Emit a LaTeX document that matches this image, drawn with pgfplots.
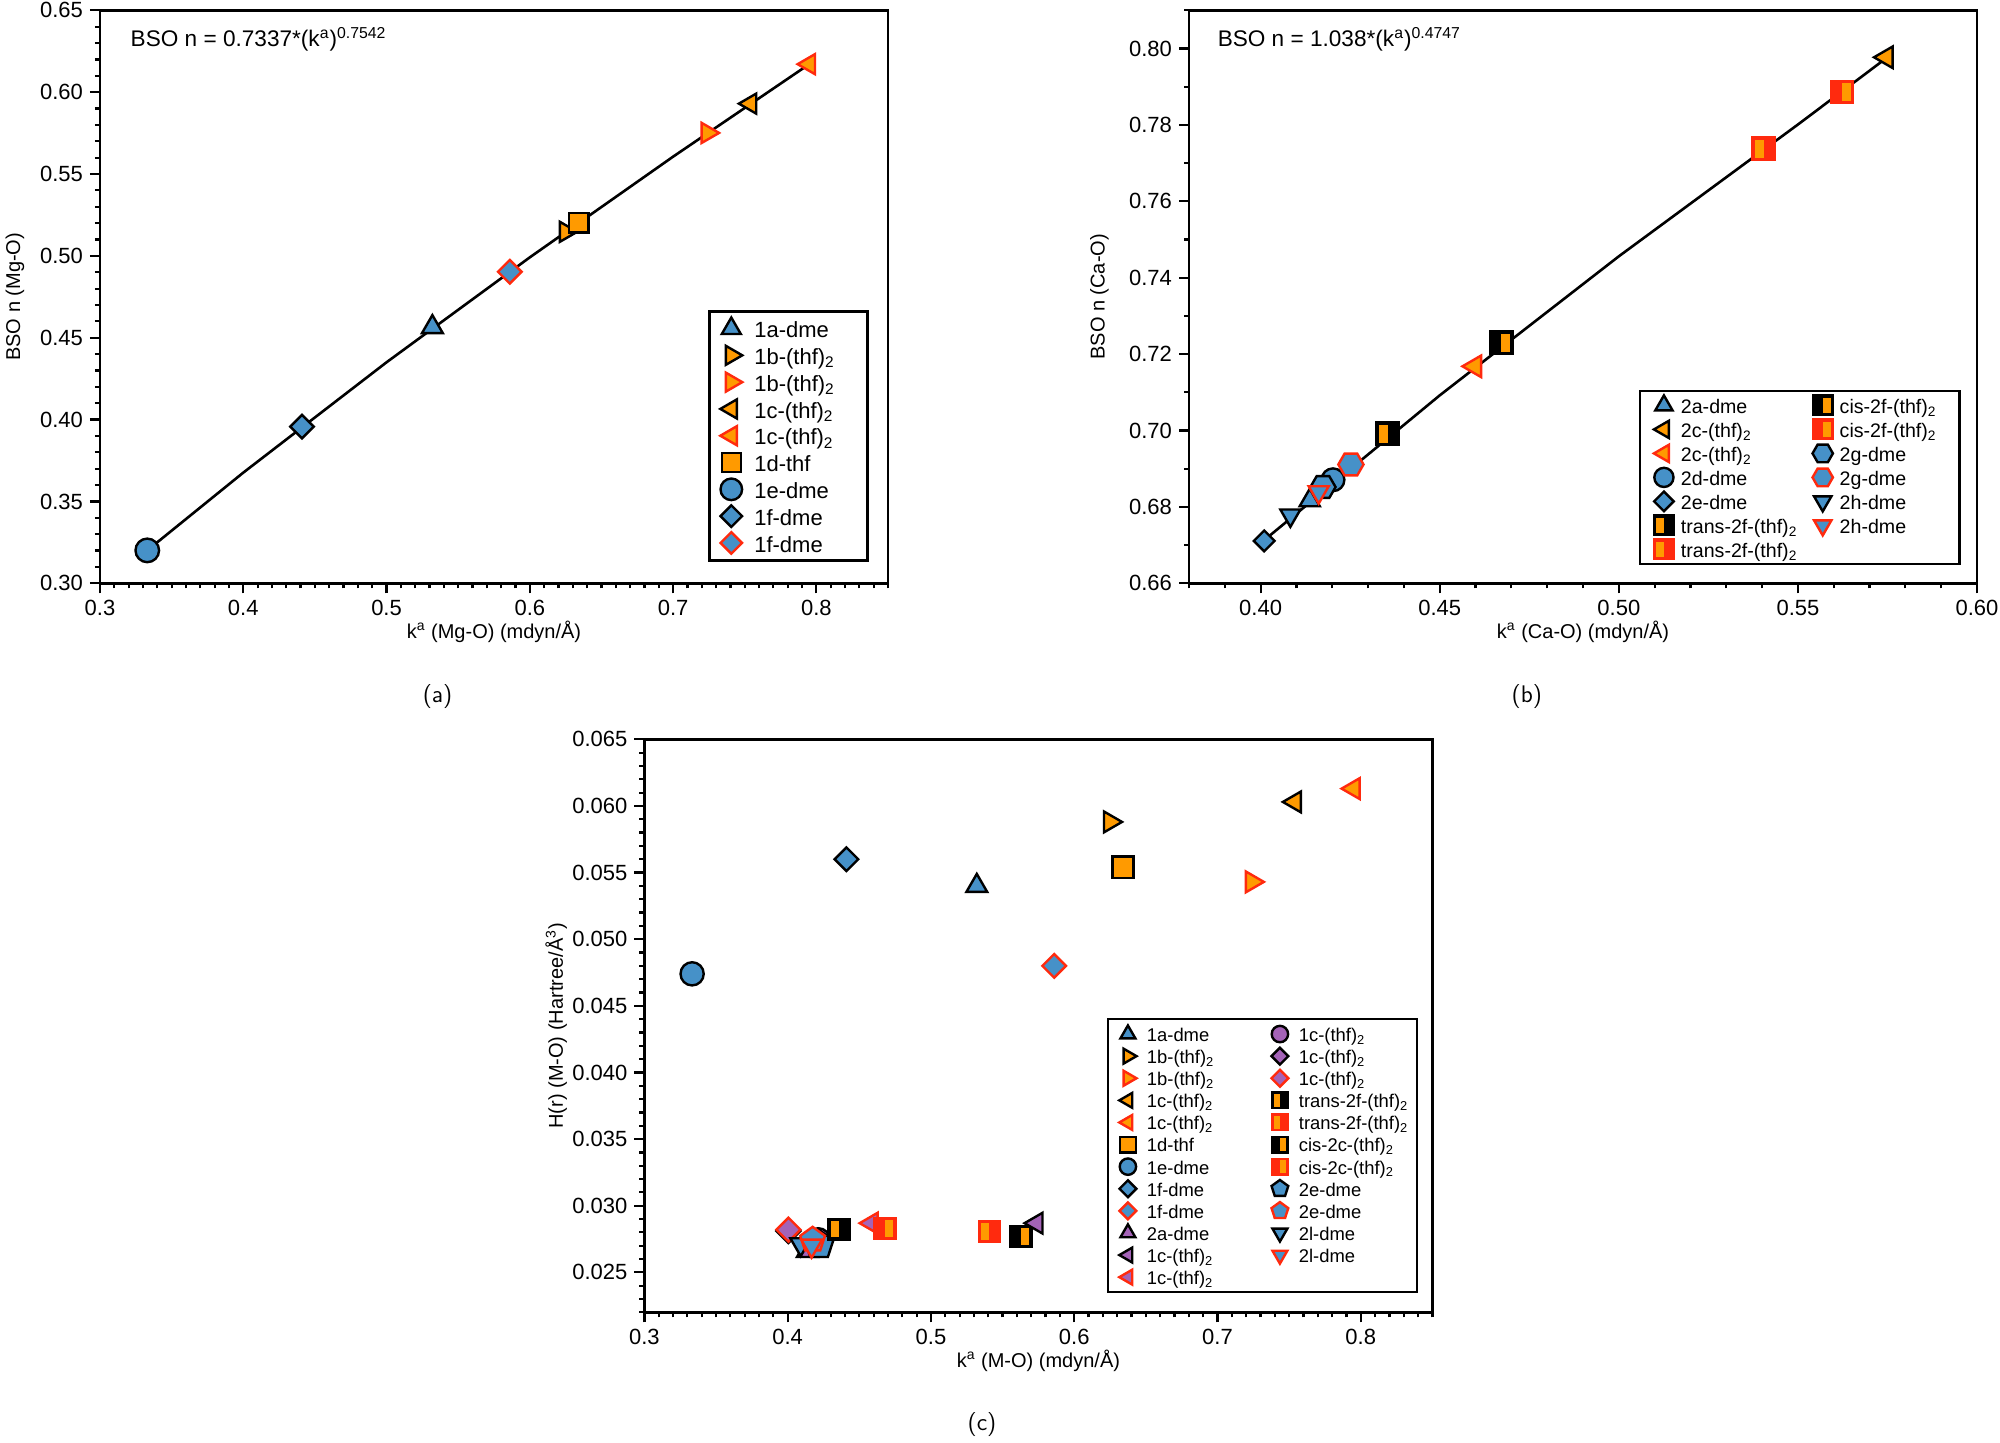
\documentclass[border=0pt]{standalone}
\usepackage{fontspec}
\setmainfont{Liberation Sans}
\usepackage{pgfplots}
\pgfplotsset{compat=1.18}

\definecolor{mBlue}{HTML}{4691C8}
\definecolor{mOrange}{HTML}{FF9A00}
\definecolor{mRed}{HTML}{FF2A0E}
\definecolor{mPurple}{HTML}{A463B7}

% square-shaped diamond
\pgfdeclareplotmark{sqdiamond}{%
  \pgfpathmoveto{\pgfqpoint{0pt}{\pgfplotmarksize}}%
  \pgfpathlineto{\pgfqpoint{\pgfplotmarksize}{0pt}}%
  \pgfpathlineto{\pgfqpoint{0pt}{-\pgfplotmarksize}}%
  \pgfpathlineto{\pgfqpoint{-\pgfplotmarksize}{0pt}}%
  \pgfpathclose
  \pgfusepathqfillstroke}
% hexagon, pointy left/right
\pgfdeclareplotmark{hexa}{%
  \pgfpathmoveto{\pgfqpoint{\pgfplotmarksize}{0pt}}%
  \pgfpathlineto{\pgfqpoint{0.5\pgfplotmarksize}{0.866\pgfplotmarksize}}%
  \pgfpathlineto{\pgfqpoint{-0.5\pgfplotmarksize}{0.866\pgfplotmarksize}}%
  \pgfpathlineto{\pgfqpoint{-\pgfplotmarksize}{0pt}}%
  \pgfpathlineto{\pgfqpoint{-0.5\pgfplotmarksize}{-0.866\pgfplotmarksize}}%
  \pgfpathlineto{\pgfqpoint{0.5\pgfplotmarksize}{-0.866\pgfplotmarksize}}%
  \pgfpathclose
  \pgfusepathqfillstroke}
% square in edge colour, orange bar on the left (trans)
\pgfdeclareplotmark{halfL}{%
  \pgfpathrectangle{\pgfqpoint{-\pgfplotmarksize}{-\pgfplotmarksize}}{\pgfqpoint{2\pgfplotmarksize}{2\pgfplotmarksize}}%
  \pgfusepathqfillstroke
  \begin{pgfscope}\pgfsetfillcolor{mOrange}%
  \pgfpathrectangle{\pgfqpoint{-0.8\pgfplotmarksize}{-0.8\pgfplotmarksize}}{\pgfqpoint{0.8\pgfplotmarksize}{1.6\pgfplotmarksize}}%
  \pgfusepathqfill\end{pgfscope}}
% orange bar on the right (cis)
\pgfdeclareplotmark{halfR}{%
  \pgfpathrectangle{\pgfqpoint{-\pgfplotmarksize}{-\pgfplotmarksize}}{\pgfqpoint{2\pgfplotmarksize}{2\pgfplotmarksize}}%
  \pgfusepathqfillstroke
  \begin{pgfscope}\pgfsetfillcolor{mOrange}%
  \pgfpathrectangle{\pgfqpoint{0pt}{-0.8\pgfplotmarksize}}{\pgfqpoint{0.8\pgfplotmarksize}{1.6\pgfplotmarksize}}%
  \pgfusepathqfill\end{pgfscope}}

% legend text cells of fixed width and height
\newcommand{\LA}[1]{\makebox[52.5pt][l]{\rule[-3.8pt]{0pt}{14.4pt}#1}}
\newcommand{\LB}[2]{\makebox[#1][l]{\rule[-2.5pt]{0pt}{12pt}#2}}
\newcommand{\LC}[2]{\makebox[#1][l]{\rule[-2.25pt]{0pt}{11.1pt}#2}}
\newcommand{\thfs}{(thf)\textsubscript{2}}

\pgfplotsset{
  M/.style n args={4}{only marks, line width=1.2pt, mark=#1, draw=#2, fill=#3, mark size=#4},
  rl/.style={mark options={rotate=90}},
  rr/.style={mark options={rotate=-90}},
  rd/.style={mark options={rotate=180}},
  leg/.style={legend image code/.code={\path[draw=none, fill=none] (-#1,0pt) -- (#1,0pt); \draw[##1, overlay] plot coordinates {(0pt,0pt)};}},
  fmt/.style={/pgf/number format/fixed, /pgf/number format/fixed zerofill, /pgf/number format/precision=#1},
  panel/.style={
    scale only axis, width=394pt, height=286.5pt,
    scaled ticks=false,
    axis line style={line width=1.3pt},
    tick style={black, line width=1.1pt},
    tick align=outside, xtick pos=left, ytick pos=left,
    major tick length=5pt, minor tick length=2.5pt,
    tick label style={font=\fontsize{11}{13}\selectfont},
    label style={font=\fontsize{10.5}{12}\selectfont},
    /pgf/number format/assume math mode=true,
    every axis x label/.style={at={(axis description cs:0.5,-0.084)}, anchor=center},
    legend cell align=left,
  },
}

\begin{document}
\begin{tikzpicture}
\useasboundingbox (0pt,0pt) rectangle (1000pt,-721.5pt);

% ---------------- (a)
\begin{axis}[panel, at={(50pt,-291.65pt)}, anchor=south west,
  xmin=0.3, xmax=0.85, ymin=0.30, ymax=0.65,
  xtick={0.3,0.4,0.5,0.6,0.7,0.8}, ytick={0.30,0.35,0.40,0.45,0.50,0.55,0.60,0.65},
  minor xtick={0.30,0.31,...,0.85}, minor ytick={0.30,0.31,...,0.65},
  xticklabel style={fmt=1}, yticklabel style={fmt=2},
  xlabel={k\textsuperscript{a} (Mg-O) (mdyn/Å)},
  ylabel={BSO n (Mg-O)},
  every axis y label/.style={at={(axis description cs:-0.108,0.5)}, rotate=90, anchor=center},
  legend style={at={(rel axis cs:0.9754,0.038)}, anchor=south east, draw=black, line width=1.3pt,
    font=\fontsize{11}{13}\selectfont, inner xsep=4pt, inner ysep=2.6pt, row sep=1.3pt, column sep=4.5pt,
    nodes={inner sep=0pt}},
]
\addplot[black, line width=1.3pt, forget plot] coordinates {
  (0.333,0.3201) (0.40,0.3676) (0.50,0.4350) (0.60,0.4991) (0.70,0.5606) (0.795,0.6171)};
\addplot[M={*}{black}{mBlue}{5.9pt}, forget plot] coordinates {(0.333,0.3201)};
\addplot[M={sqdiamond}{black}{mBlue}{5.9pt}, forget plot] coordinates {(0.441,0.3957)};
\addplot[M={triangle*}{black}{mBlue}{6pt}, forget plot] coordinates {(0.532,0.4565)};
\addplot[M={sqdiamond}{mRed}{mBlue}{5.9pt}, forget plot] coordinates {(0.586,0.4903)};
\addplot[M={triangle*}{black}{mOrange}{5.8pt}, rr, forget plot] coordinates {(0.625,0.5147)};
\addplot[M={square*}{black}{mOrange}{4.9pt}, forget plot] coordinates {(0.634,0.5203)};
\addplot[M={triangle*}{mRed}{mOrange}{5.8pt}, rr, forget plot] coordinates {(0.724,0.5751)};
\addplot[M={triangle*}{black}{mOrange}{5.8pt}, rl, forget plot] coordinates {(0.754,0.5930)};
\addplot[M={triangle*}{mRed}{mOrange}{5.8pt}, rl, forget plot] coordinates {(0.795,0.6171)};
\node[anchor=west, font=\fontsize{11.3}{13}\selectfont] at (rel axis cs:0.030,0.950)
  {BSO n = 0.7337*(k\textsuperscript{a})\textsuperscript{0.7542}};
\addlegendimage{M={triangle*}{black}{mBlue}{5.5pt}, leg=7pt}
\addlegendentry{\LA{1a-dme}}
\addlegendimage{M={triangle*}{black}{mOrange}{5.5pt}, rr, leg=7pt}
\addlegendentry{\LA{1b-\thfs}}
\addlegendimage{M={triangle*}{mRed}{mOrange}{5.5pt}, rr, leg=7pt}
\addlegendentry{\LA{1b-\thfs}}
\addlegendimage{M={triangle*}{black}{mOrange}{5.5pt}, rl, leg=7pt}
\addlegendentry{\LA{1c-\thfs}}
\addlegendimage{M={triangle*}{mRed}{mOrange}{5.5pt}, rl, leg=7pt}
\addlegendentry{\LA{1c-\thfs}}
\addlegendimage{M={square*}{black}{mOrange}{4.7pt}, leg=7pt}
\addlegendentry{\LA{1d-thf}}
\addlegendimage{M={*}{black}{mBlue}{5.4pt}, leg=7pt}
\addlegendentry{\LA{1e-dme}}
\addlegendimage{M={sqdiamond}{black}{mBlue}{5.4pt}, leg=7pt}
\addlegendentry{\LA{1f-dme}}
\addlegendimage{M={sqdiamond}{mRed}{mBlue}{5.4pt}, leg=7pt}
\addlegendentry{\LA{1f-dme}}
\end{axis}

% ---------------- (b)
\begin{axis}[panel, at={(594.5pt,-291.65pt)}, anchor=south west,
  xmin=0.38, xmax=0.60, ymin=0.66, ymax=0.81,
  xtick={0.40,0.45,0.50,0.55,0.60}, ytick={0.66,0.68,0.70,0.72,0.74,0.76,0.78,0.80},
  minor xtick={0.38,0.39,...,0.60}, minor ytick={0.67,0.69,...,0.81},
  xticklabel style={fmt=2}, yticklabel style={fmt=2},
  xlabel={k\textsuperscript{a} (Ca-O) (mdyn/Å)},
  ylabel={BSO n (Ca-O)},
  every axis y label/.style={at={(axis description cs:-0.1136,0.5)}, rotate=90, anchor=center},
  legend columns=2,
  legend style={at={(rel axis cs:0.9797,0.0314)}, anchor=south east, draw=black, line width=1.3pt,
    font=\fontsize{9.8}{11.5}\selectfont, inner xsep=6pt, inner ysep=1.8pt, row sep=1pt, column sep=2.5pt,
    nodes={inner sep=0pt}},
]
\addplot[black, line width=1.3pt, forget plot] coordinates {
  (0.401,0.6713) (0.45,0.7092) (0.50,0.7456) (0.55,0.7801) (0.5747,0.7975)};
\addplot[M={*}{black}{mBlue}{5.7pt}, forget plot] coordinates {(0.4202,0.6871)};
\addplot[M={hexa}{black}{mBlue}{6.3pt}, forget plot] coordinates {(0.4174,0.6852)};
\addplot[M={triangle*}{black}{mBlue}{5.8pt}, forget plot] coordinates {(0.4137,0.6817)};
\addplot[M={triangle*}{mRed}{mBlue}{5.8pt}, rd, forget plot] coordinates {(0.4162,0.6839)};
\addplot[M={hexa}{mRed}{mBlue}{6.3pt}, forget plot] coordinates {(0.4252,0.6911)};
\addplot[M={triangle*}{black}{mBlue}{5.8pt}, rd, forget plot] coordinates {(0.4083,0.6778)};
\addplot[M={sqdiamond}{black}{mBlue}{5.2pt}, forget plot] coordinates {(0.401,0.6711)};
\addplot[M={halfL}{black}{black}{5.6pt}, forget plot] coordinates {(0.4355,0.6992)};
\addplot[M={triangle*}{mRed}{mOrange}{6.2pt}, rl, forget plot] coordinates {(0.4598,0.7168)};
\addplot[M={halfR}{black}{black}{5.6pt}, forget plot] coordinates {(0.4672,0.7230)};
\addplot[M={halfL}{mRed}{mRed}{5.6pt}, forget plot] coordinates {(0.5404,0.7738)};
\addplot[M={halfR}{mRed}{mRed}{5.6pt}, forget plot] coordinates {(0.5623,0.7886)};
\addplot[M={triangle*}{black}{mOrange}{6.2pt}, rl, forget plot] coordinates {(0.5747,0.7977)};
\node[anchor=west, font=\fontsize{11.3}{13}\selectfont] at (rel axis cs:0.0275,0.950)
  {BSO n = 1.038*(k\textsuperscript{a})\textsuperscript{0.4747}};
% legend, filled row by row
\addlegendimage{M={triangle*}{black}{mBlue}{5pt}, leg=6pt}
\addlegendentry{\LB{62.4pt}{2a-dme}}
\addlegendimage{M={halfR}{black}{black}{4.9pt}, leg=6pt}
\addlegendentry{\LB{54pt}{cis-2f-\thfs}}
\addlegendimage{M={triangle*}{black}{mOrange}{5pt}, rl, leg=6pt}
\addlegendentry{\LB{62.4pt}{2c-\thfs}}
\addlegendimage{M={halfR}{mRed}{mRed}{4.9pt}, leg=6pt}
\addlegendentry{\LB{54pt}{cis-2f-\thfs}}
\addlegendimage{M={triangle*}{mRed}{mOrange}{5pt}, rl, leg=6pt}
\addlegendentry{\LB{62.4pt}{2c-\thfs}}
\addlegendimage{M={hexa}{black}{mBlue}{5.1pt}, leg=6pt}
\addlegendentry{\LB{54pt}{2g-dme}}
\addlegendimage{M={*}{black}{mBlue}{4.8pt}, leg=6pt}
\addlegendentry{\LB{62.4pt}{2d-dme}}
\addlegendimage{M={hexa}{mRed}{mBlue}{5.1pt}, leg=6pt}
\addlegendentry{\LB{54pt}{2g-dme}}
\addlegendimage{M={sqdiamond}{black}{mBlue}{4.9pt}, leg=6pt}
\addlegendentry{\LB{62.4pt}{2e-dme}}
\addlegendimage{M={triangle*}{black}{mBlue}{5pt}, rd, leg=6pt}
\addlegendentry{\LB{54pt}{2h-dme}}
\addlegendimage{M={halfL}{black}{black}{4.9pt}, leg=6pt}
\addlegendentry{\LB{62.4pt}{trans-2f-\thfs}}
\addlegendimage{M={triangle*}{mRed}{mBlue}{5pt}, rd, leg=6pt}
\addlegendentry{\LB{54pt}{2h-dme}}
\addlegendimage{M={halfL}{mRed}{mRed}{4.9pt}, leg=6pt}
\addlegendentry{\LB{62.4pt}{trans-2f-\thfs}}
\end{axis}

% ---------------- (c)
\begin{axis}[panel, at={(322.2pt,-656.15pt)}, anchor=south west,
  xmin=0.3, xmax=0.85, ymin=0.022, ymax=0.065,
  xtick={0.3,0.4,0.5,0.6,0.7,0.8}, ytick={0.025,0.030,0.035,0.040,0.045,0.050,0.055,0.060,0.065},
  minor xtick={0.30,0.31,...,0.85}, minor ytick={0.022,0.023,...,0.065},
  xticklabel style={fmt=1}, yticklabel style={fmt=3},
  xlabel={k\textsuperscript{a} (M-O) (mdyn/Å)},
  ylabel={H(r) (M-O) (Hartree/Å\textsuperscript{3})},
  every axis y label/.style={at={(axis description cs:-0.112,0.5)}, rotate=90, anchor=center},
  legend columns=2,
  legend style={at={(rel axis cs:0.982,0.033)}, anchor=south east, draw=black, line width=1.3pt,
    font=\fontsize{9.2}{11}\selectfont, inner xsep=5pt, inner ysep=2.3pt, row sep=0.7pt, column sep=4.5pt,
    nodes={inner sep=0pt}},
]
% Mg complexes
\addplot[M={*}{black}{mBlue}{5.8pt}, forget plot] coordinates {(0.3333,0.0474)};
\addplot[M={sqdiamond}{black}{mBlue}{5.9pt}, forget plot] coordinates {(0.441,0.0560)};
\addplot[M={triangle*}{black}{mBlue}{6pt}, forget plot] coordinates {(0.532,0.0540)};
\addplot[M={triangle*}{black}{mOrange}{6pt}, rr, forget plot] coordinates {(0.625,0.0588)};
\addplot[M={square*}{black}{mOrange}{5.3pt}, forget plot] coordinates {(0.634,0.0554)};
\addplot[M={triangle*}{black}{mOrange}{6pt}, rl, forget plot] coordinates {(0.754,0.0603)};
\addplot[M={triangle*}{mRed}{mOrange}{6pt}, rl, forget plot] coordinates {(0.795,0.0613)};
\addplot[M={triangle*}{mRed}{mOrange}{6pt}, rr, forget plot] coordinates {(0.724,0.0543)};
\addplot[M={sqdiamond}{mRed}{mBlue}{5.9pt}, forget plot] coordinates {(0.586,0.0480)};
% Ca complexes
\addplot[M={sqdiamond}{black}{mPurple}{6pt}, forget plot] coordinates {(0.4005,0.0281)};
\addplot[M={sqdiamond}{mRed}{mPurple}{6pt}, forget plot] coordinates {(0.4005,0.0282)};
\addplot[M={*}{black}{mPurple}{5.8pt}, forget plot] coordinates {(0.4214,0.02744)};
\addplot[M={triangle*}{black}{mPurple}{6pt}, forget plot] coordinates {(0.4137,0.0266)};
\addplot[M={triangle*}{black}{mBlue}{6pt}, rd, forget plot] coordinates {(0.4091,0.02711)};
\addplot[M={pentagon*}{black}{mBlue}{7.5pt}, forget plot] coordinates {(0.4219,0.02706)};
\addplot[M={pentagon*}{mRed}{mBlue}{6.5pt}, forget plot] coordinates {(0.4174,0.02744)};
\addplot[M={triangle*}{mRed}{mBlue}{6pt}, rd, forget plot] coordinates {(0.4167,0.0270)};
\addplot[M={halfL}{black}{black}{5.2pt}, forget plot] coordinates {(0.4358,0.02824)};
\addplot[M={triangle*}{mRed}{mPurple}{6pt}, rl, forget plot] coordinates {(0.4586,0.02869)};
\addplot[M={halfR}{mRed}{mRed}{5.2pt}, forget plot] coordinates {(0.4679,0.02827)};
\addplot[M={halfL}{mRed}{mRed}{5.2pt}, forget plot] coordinates {(0.5407,0.02806)};
\addplot[M={halfR}{black}{black}{5.2pt}, forget plot] coordinates {(0.5628,0.02769)};
\addplot[M={triangle*}{black}{mPurple}{6pt}, rl, forget plot] coordinates {(0.5737,0.02869)};
% legend, filled row by row (left column, right column)
\addlegendimage{M={triangle*}{black}{mBlue}{4.3pt}, leg=5pt}
\addlegendentry{\LC{57pt}{1a-dme}}
\addlegendimage{M={*}{black}{mPurple}{4.1pt}, leg=5pt}
\addlegendentry{\LC{54pt}{1c-\thfs}}
\addlegendimage{M={triangle*}{black}{mOrange}{4.3pt}, rr, leg=5pt}
\addlegendentry{\LC{57pt}{1b-\thfs}}
\addlegendimage{M={sqdiamond}{black}{mPurple}{4.2pt}, leg=5pt}
\addlegendentry{\LC{54pt}{1c-\thfs}}
\addlegendimage{M={triangle*}{mRed}{mOrange}{4.3pt}, rr, leg=5pt}
\addlegendentry{\LC{57pt}{1b-\thfs}}
\addlegendimage{M={sqdiamond}{mRed}{mPurple}{4.2pt}, leg=5pt}
\addlegendentry{\LC{54pt}{1c-\thfs}}
\addlegendimage{M={triangle*}{black}{mOrange}{4.3pt}, rl, leg=5pt}
\addlegendentry{\LC{57pt}{1c-\thfs}}
\addlegendimage{M={halfL}{black}{black}{3.9pt}, leg=5pt}
\addlegendentry{\LC{54pt}{trans-2f-\thfs}}
\addlegendimage{M={triangle*}{mRed}{mOrange}{4.3pt}, rl, leg=5pt}
\addlegendentry{\LC{57pt}{1c-\thfs}}
\addlegendimage{M={halfL}{mRed}{mRed}{3.9pt}, leg=5pt}
\addlegendentry{\LC{54pt}{trans-2f-\thfs}}
\addlegendimage{M={square*}{black}{mOrange}{3.9pt}, leg=5pt}
\addlegendentry{\LC{57pt}{1d-thf}}
\addlegendimage{M={halfR}{black}{black}{3.9pt}, leg=5pt}
\addlegendentry{\LC{54pt}{cis-2c-\thfs}}
\addlegendimage{M={*}{black}{mBlue}{4.1pt}, leg=5pt}
\addlegendentry{\LC{57pt}{1e-dme}}
\addlegendimage{M={halfR}{mRed}{mRed}{3.9pt}, leg=5pt}
\addlegendentry{\LC{54pt}{cis-2c-\thfs}}
\addlegendimage{M={sqdiamond}{black}{mBlue}{4.2pt}, leg=5pt}
\addlegendentry{\LC{57pt}{1f-dme}}
\addlegendimage{M={pentagon*}{black}{mBlue}{4.4pt}, leg=5pt}
\addlegendentry{\LC{54pt}{2e-dme}}
\addlegendimage{M={sqdiamond}{mRed}{mBlue}{4.2pt}, leg=5pt}
\addlegendentry{\LC{57pt}{1f-dme}}
\addlegendimage{M={pentagon*}{mRed}{mBlue}{4.4pt}, leg=5pt}
\addlegendentry{\LC{54pt}{2e-dme}}
\addlegendimage{M={triangle*}{black}{mPurple}{4.3pt}, leg=5pt}
\addlegendentry{\LC{57pt}{2a-dme}}
\addlegendimage{M={triangle*}{black}{mBlue}{4.3pt}, rd, leg=5pt}
\addlegendentry{\LC{54pt}{2l-dme}}
\addlegendimage{M={triangle*}{black}{mPurple}{4.3pt}, rl, leg=5pt}
\addlegendentry{\LC{57pt}{1c-\thfs}}
\addlegendimage{M={triangle*}{mRed}{mBlue}{4.3pt}, rd, leg=5pt}
\addlegendentry{\LC{54pt}{2l-dme}}
\addlegendimage{M={triangle*}{mRed}{mPurple}{4.3pt}, rl, leg=5pt}
\addlegendentry{\LC{57pt}{1c-\thfs}}
\end{axis}

\node[font=\fontsize{12}{14}\sffamily] at (218.8pt,-348.2pt) {(a)};
\node[font=\fontsize{12}{14}\sffamily] at (763.4pt,-348.2pt) {(b)};
\node[font=\fontsize{12}{14}\sffamily] at (491pt,-712.4pt) {(c)};
\end{tikzpicture}
\end{document}
